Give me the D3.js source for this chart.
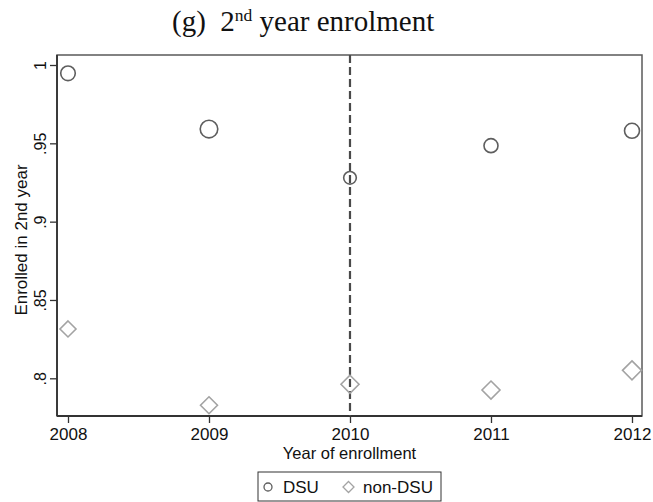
<!DOCTYPE html>
<html>
<head>
<meta charset="utf-8">
<script src="https://cdn.jsdelivr.net/npm/d3@7"></script>
<style>
  html, body { margin: 0; padding: 0; background: #fff; }
  svg { display: block; }
  text { font-family: "Liberation Sans", Arial, sans-serif; fill: #111; }
</style>
</head>
<body>
<script>
// Enrollment years on the x axis
const years = [2008, 2009, 2010, 2011, 2012];
// Share enrolled in 2nd year, by group
const dsuValues = [0.9947, 0.9591, 0.9280, 0.9485, 0.9580];
const nonDsuValues = [0.8315, 0.7828, 0.7962, 0.7925, 0.8051];
// Relative cohort weights (marker area)
const dsuWeights = [53, 77, 40, 49, 56];
const nonDsuWeights = [64, 72, 81, 81, 90];
// Axis ticks
const yTicks = [0.8, 0.85, 0.9, 0.95, 1];
const yTickLabels = [".8", ".85", ".9", ".95", "1"];
const cutoffYear = 2010;
const seriesNames = ["DSU", "non-DSU"];

const W = 653, H = 502;
const plot = { left: 57, right: 642, top: 55, bottom: 416 };

const svg = d3.select("body").append("svg")
  .attr("width", W).attr("height", H);

const x = d3.scaleLinear()
  .domain([2007.922, 2012.071])
  .range([plot.left, plot.right]);
const y = d3.scaleLinear()
  .domain([0.8, 1])
  .range([378.3, 65]);

// Title with superscript ordinal
const title = svg.append("text")
  .attr("x", 172).attr("y", 31)
  .style("font-family", '"Liberation Serif", "Times New Roman", serif')
  .style("font-size", "29px")
  .style("white-space", "pre");
title.append("tspan").text("(g)  2");
title.append("tspan").attr("dy", -10).style("font-size", "17.5px").text("nd");
title.append("tspan").attr("dy", 10).text(" year enrolment");

// Plot region frame
svg.append("rect")
  .attr("x", plot.left).attr("y", plot.top)
  .attr("width", plot.right - plot.left).attr("height", plot.bottom - plot.top)
  .attr("fill", "none").attr("stroke", "#5a5a5a").attr("stroke-width", 1.5);

// Y axis (rotated tick labels)
const yAxis = d3.axisLeft(y).tickValues(yTicks)
  .tickFormat((d, i) => yTickLabels[i]).tickSize(7).tickPadding(3);
const gy = svg.append("g").attr("transform", `translate(${plot.left},0)`).call(yAxis);
gy.select(".domain").remove();
gy.selectAll(".tick line").attr("stroke", "#333").attr("stroke-width", 1.3);
gy.selectAll(".tick text")
  .attr("x", null).attr("dy", null)
  .attr("transform", "translate(-11,0) rotate(-90)")
  .attr("text-anchor", "middle")
  .style("font-size", "16px").style("fill", "#111");
svg.append("line")
  .attr("x1", plot.left).attr("x2", plot.left)
  .attr("y1", plot.top).attr("y2", plot.bottom)
  .attr("stroke", "#333").attr("stroke-width", 1.8);

// X axis
const xAxis = d3.axisBottom(x).tickValues(years).tickFormat(d3.format("d"))
  .tickSize(7).tickPadding(5);
const gx = svg.append("g").attr("transform", `translate(0,${plot.bottom})`).call(xAxis);
gx.select(".domain").remove();
gx.selectAll(".tick line").attr("stroke", "#333").attr("stroke-width", 1.3);
gx.selectAll(".tick text").style("font-size", "17px").style("fill", "#111");
svg.append("line")
  .attr("x1", plot.left).attr("x2", plot.right)
  .attr("y1", plot.bottom).attr("y2", plot.bottom)
  .attr("stroke", "#333").attr("stroke-width", 1.8);

// Axis titles
svg.append("text")
  .attr("x", (plot.left + plot.right) / 2).attr("y", 459)
  .attr("text-anchor", "middle").style("font-size", "16.5px")
  .text("Year of enrollment");
svg.append("text")
  .attr("transform", `translate(27,240) rotate(-90)`)
  .attr("text-anchor", "middle").style("font-size", "17px")
  .text("Enrolled in 2nd year");

// Cutoff line
svg.append("line")
  .attr("x1", x(cutoffYear)).attr("x2", x(cutoffYear))
  .attr("y1", plot.top).attr("y2", plot.bottom)
  .attr("stroke", "#4a4a4a").attr("stroke-width", 2.2)
  .attr("stroke-dasharray", "8,4");

const size = d3.scaleSqrt().domain([0, 100]).range([0, 10]);
const diamond = (cx, cy, h) => `M${cx},${cy - h}L${cx + h},${cy}L${cx},${cy + h}L${cx - h},${cy}Z`;

// DSU circles
svg.append("g").selectAll("circle")
  .data(years.map((yr, i) => ({ yr, v: dsuValues[i], w: dsuWeights[i] })))
  .join("circle")
  .attr("cx", d => x(d.yr)).attr("cy", d => y(d.v))
  .attr("r", d => size(d.w))
  .attr("fill", "none").attr("stroke", "#5e5e5e").attr("stroke-width", 1.6);

// non-DSU diamonds
svg.append("g").selectAll("path")
  .data(years.map((yr, i) => ({ yr, v: nonDsuValues[i], w: nonDsuWeights[i] })))
  .join("path")
  .attr("d", d => diamond(x(d.yr), y(d.v), size(d.w)))
  .attr("fill", "none").attr("stroke", "#a3a3a3").attr("stroke-width", 1.6);

// Legend
const lg = svg.append("g");
lg.append("rect").attr("x", 258).attr("y", 472).attr("width", 183).attr("height", 29)
  .attr("fill", "#fff").attr("stroke", "#333").attr("stroke-width", 1);
lg.append("circle").attr("cx", 268).attr("cy", 487).attr("r", 4)
  .attr("fill", "none").attr("stroke", "#5e5e5e").attr("stroke-width", 1.3);
lg.append("text").attr("x", 283).attr("y", 493).style("font-size", "17px").text(seriesNames[0]);
lg.append("path").attr("d", diamond(348.5, 487, 5.5))
  .attr("fill", "none").attr("stroke", "#a3a3a3").attr("stroke-width", 1.3);
lg.append("text").attr("x", 363).attr("y", 493).style("font-size", "17px").text(seriesNames[1]);
</script>
</body>
</html>
